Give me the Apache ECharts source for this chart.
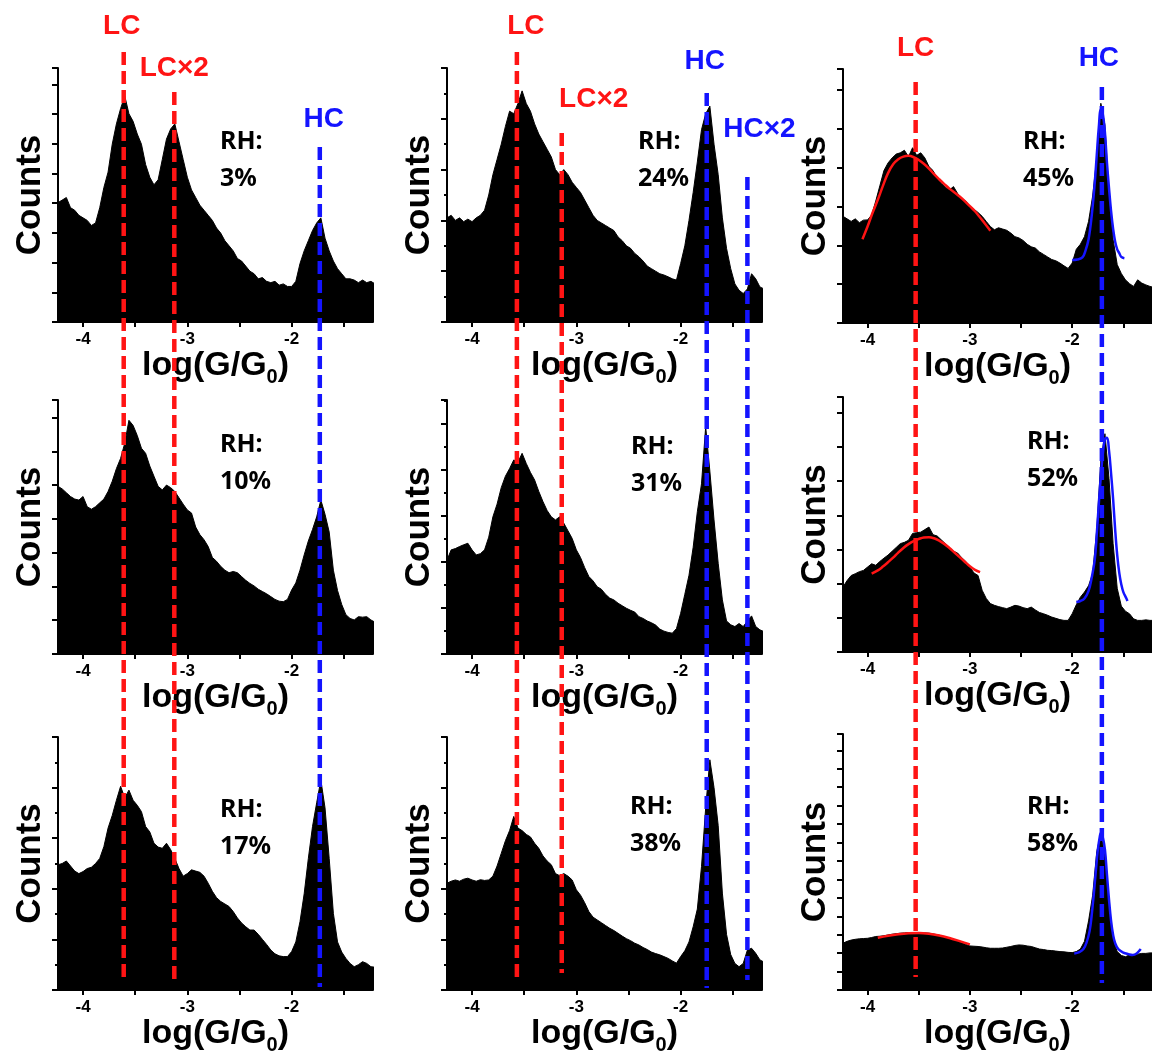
<!DOCTYPE html>
<html>
<head>
<meta charset="utf-8">
<script src="https://cdn.jsdelivr.net/npm/echarts@6.0.0/dist/echarts.min.js"></script>
<style>
  html, body { margin: 0; padding: 0; background: #fff; }
  #main { width: 1152px; height: 1059px; }
</style>
</head>
<body>
<div id="main"></div>
<script>
"use strict";

// bin centres of the conductance histograms, log(G/G0)
var bins = [-4.24,-4.20,-4.16,-4.12,-4.08,-4.04,-4.00,-3.96,-3.92,-3.88,
  -3.84,-3.80,-3.76,-3.72,-3.68,-3.64,-3.60,-3.56,-3.52,-3.48,
  -3.44,-3.40,-3.36,-3.32,-3.28,-3.24,-3.20,-3.16,-3.12,-3.08,
  -3.04,-3.00,-2.96,-2.92,-2.88,-2.84,-2.80,-2.76,-2.72,-2.68,
  -2.64,-2.60,-2.56,-2.52,-2.48,-2.44,-2.40,-2.36,-2.32,-2.28,
  -2.24,-2.20,-2.16,-2.12,-2.08,-2.04,-2.00,-1.96,-1.92,-1.88,
  -1.84,-1.80,-1.76,-1.72,-1.68,-1.64,-1.60,-1.56,-1.52,-1.48,
  -1.44,-1.40,-1.36,-1.32,-1.28,-1.24,-1.20];

// counts, in % of the axis height
var rh3 = [47,48,49,45,44,42,41,40,38,39,
  45,53,59,70,78,84,89,82,79,74,
  70,62,57,54,56,64,72,76,78,71,
  64,57,52,49,46,44,42,40,37,35,
  32,30,28,25,24,22,20,19,17,17.5,
  16,15.5,16,14.5,15,14,14,16,23,28,
  32,36,39,41,33,28,24,21,19,17,
  17,16.5,15.5,16.5,15.5,16,15];
var rh24 = [41,42,40,41,39.5,40.5,39.5,41,42,44,
  50,58,64,70,77,83,82,86,91,86,
  83,78,74,71,68,65,60,58,60,58,
  55,53,51,48,45,42,40,39,38,37,
  36,33.5,32,30,29,27,25.7,24,22,21,
  20,19,18.5,17.8,17,16.5,23,30,40,51,
  63,75.7,82,85,70,58,41,29,21,15,
  12.5,11.2,13,19,17,13.8,13];
var rh45 = [42,41,40,41,39.5,40.5,40.6,42.5,48,54,
  60,63,65,66.5,67,68,65.5,69,66,67,
  65,61.6,60,57,55,53.5,52.4,53.7,51,49,
  48,46,44.8,43.5,42,40,38,36.7,37.5,37,
  36.5,35.4,34,33.5,32.5,31,30,29.5,28,27,
  26,25,24.5,23.6,22.5,21.5,23.6,29,31,34,
  40,50,65,86.5,78,50,32.8,23,19.5,17,
  15.5,14.4,17,15.7,15,14.4,14];
var rh10 = [66,65,63.5,62,61,60.6,62,58,57,58,
  59.5,61,64,68,73,77,83,92,90,86,
  81,79,74,70,66,64.6,66.5,65.5,64,61.5,
  59,56.7,55.5,50,47,45,42.3,38,36.5,34.5,
  33,32,32.5,32,30.5,29,27.8,26.8,25.5,24.6,
  23.7,22.6,21.5,20.8,20.6,21.5,25.2,28,33,39,
  44.5,49,54,60.6,55,48,33,25,19.5,15.5,
  14,13.4,14.7,14.5,14.7,13.4,12.5];
var rh31 = [37,41,41.5,42.3,43,43.6,41,39,39.5,41,
  46,54,59,65.5,70,73,76.4,75.5,79,75,
  71.5,68.5,64,60,56.5,54,52.8,54,51.5,48.5,
  45.5,41,38,34,30.5,28.8,26.5,25.5,23.5,22,
  21.3,20,19,18,17.2,16.5,14.7,14,13,12.3,
  11.4,9.8,9,8.5,8.2,10,16,23.5,31,42,
  56,67,89.5,72,52.8,35.7,21.3,13,11.5,10.8,
  12,10.8,13,15,10.8,9.5,8.8];
var rh52 = [25.5,28,30,30.7,31.5,32,33.3,34.6,34,35.5,
  36.8,38,39.5,41,42.5,43,43.8,46.5,46.8,47,
  48,49,46,45.5,44,42.5,41,39.5,38.8,37,
  35.5,33.3,31,30,24.2,21,19,18.3,17.8,17.4,
  17,17.6,18.3,18,17.4,17,17.6,16.5,15.5,15,
  14.4,13.7,13.2,12.7,12.4,12.4,15,18.5,21.5,23.5,
  26,30.7,48,75,85.6,68,42.5,25,18,16,
  15,13,12.4,12.4,12.6,12.4,12.4];
var rh17 = [49.5,50,51,49,47,46,46.8,48,48.5,50,
  52,56.7,64,69,75,80.5,76,79,75,73,
  70.5,64.6,62.5,58,56.5,56,58,55.5,52,48,
  45,46,47.5,47,46.5,45,42.2,39,36.5,35,
  34,33,31,28.5,26.5,25,23.7,23.7,22,20,
  18,15.8,14.3,13.5,13.2,13.2,15.2,19,27,38,
  52,64.6,74,83,72,52,30.3,19,15,12.5,
  10.5,9.2,10,11.2,10.5,9.2,9];
var rh38 = [42.2,43,43.5,43,43.8,44.2,43.5,43,43.6,43.3,
  43.5,45,49,54,59,63,68.6,64,63,61.5,
  60.5,58,56,53,51,49.5,46,45.2,46,45,
  43.5,39.6,37.5,34.5,31,28.8,27.7,26.6,25.5,24.4,
  23.5,22.4,21.3,20.3,19.5,18.5,17.8,16.8,16,15,
  14.4,13.9,13.2,12.5,11.5,10.6,13.2,15.5,19,25,
  32,48.8,72,91,80,65,38.3,22,14,10.5,
  9.2,10.5,15.8,16.5,14.5,11.9,11];
var rh58 = [18.3,19,19.5,19.8,20,20.1,20.2,20.5,20.9,21,
  21.2,21.5,21.8,22,22.2,22.3,22.4,22.3,22.2,22.2,
  22.3,22.2,21.9,21.6,21.2,20.6,20.2,19.7,19.1,18.6,
  17.8,17.2,17.1,17,16.8,16.5,16.3,16.3,16.3,16.4,
  16.7,17,17.4,17.6,17.5,17.2,17,16.5,16,15.8,
  15.5,15.4,15.2,15,14.9,14.7,14.6,15,16,19,
  27,37,54,61.3,52,34,19.5,15,13.5,13,
  13.7,13.5,14,14.3,14.3,14.5,14.5];

// fitted peaks of the right column
var fit45LcX = [-4.05,-4.0,-3.95,-3.9,-3.85,-3.8,-3.75,-3.7,-3.65,-3.6,-3.55,-3.5,-3.45,-3.4,-3.35,-3.3,-3.25,-3.2,-3.15,-3.1,-3.05,-3.0,-2.95,-2.9,-2.85,-2.8];
var fit45LcY = [33,38,43.5,48.5,54,59,62.5,64.5,65.5,65.8,65.3,64.2,62.7,60.8,58.6,56.6,54.7,52.9,51.4,49.8,48,46,44,41.5,39,36.3];
var fit45HcX = [-2.0,-1.95,-1.9,-1.87,-1.84,-1.81,-1.78,-1.76,-1.74,-1.72,-1.7,-1.68,-1.66,-1.64,-1.62,-1.6,-1.58,-1.56,-1.54,-1.52,-1.49];
var fit45HcY = [24.8,25,25.8,28.5,33,42,55,66,77,84,82,75,63,53,44,37,32,29,27.5,26,25.5];
var fit52LcX = [-3.96,-3.9,-3.85,-3.8,-3.75,-3.7,-3.65,-3.6,-3.55,-3.5,-3.45,-3.4,-3.35,-3.3,-3.25,-3.2,-3.15,-3.1,-3.05,-3.0,-2.95,-2.9];
var fit52LcY = [30.7,32,33.5,35.2,37,39,40.8,42.3,43.5,44.3,44.9,45,44.6,43.7,42.4,40.8,39,37.2,35.4,33.6,32.2,31.3];
var fit52HcX = [-1.96,-1.92,-1.88,-1.84,-1.81,-1.78,-1.76,-1.74,-1.72,-1.70,-1.68,-1.66,-1.64,-1.62,-1.60,-1.58,-1.56,-1.54,-1.52,-1.50,-1.47,-1.46];
var fit52HcY = [19.6,20,21,24,29,36,46,58,69,78,83.5,84,79,70,60,48,38,31,26.5,23.5,21,20];
var fit58LcX = [-3.9,-3.8,-3.7,-3.6,-3.5,-3.4,-3.3,-3.2,-3.1,-3.0];
var fit58LcY = [20.4,21.2,21.8,22.2,22.3,22.0,21.3,20.3,19.1,17.8];
var fit58HcX = [-1.98,-1.93,-1.89,-1.86,-1.83,-1.81,-1.79,-1.77,-1.75,-1.73,-1.72,-1.70,-1.68,-1.66,-1.64,-1.62,-1.60,-1.58,-1.55,-1.5,-1.45,-1.41,-1.37,-1.33];
var fit58HcY = [14.3,14.8,16,18.5,23,29,37,46,54.5,60,61.3,59.5,54.8,45,35.2,27,21.5,18.3,16,14.6,14,13.7,14.3,16];

var rhLabels = ['3%', '24%', '45%', '10%', '31%', '52%', '17%', '38%', '58%'];
var xTickLabels = [-4, -3, -2];
var xTicks = [-4, -3.5, -3, -2.5, -2, -1.5];

// peak positions marked by dashed lines (log G/G0), per column
var peakNames = ['LC', 'LC×2', 'HC', 'LC', 'LC×2', 'HC', 'HC×2', 'LC', 'HC'];
var peakCols = [0, 0, 0, 1, 1, 1, 1, 2, 2];
var peakValues = [-3.61, -3.125, -1.73, -3.57, -3.14, -1.75, -1.36, -3.53, -1.71];

var RED = '#ff1414';
var BLUE = '#1414ff';

// panel layout, row by row
var panels = [
  { data: rh3,  left: 58,  top: 68,  width: 315, height: 254, step: 11.7, minor: false, rx: 220,  ry: 123 },
  { data: rh24, left: 447, top: 68,  width: 315, height: 254, step: 20,   minor: true,  rx: 638,  ry: 123 },
  { data: rh45, left: 843, top: 69,  width: 319, height: 254, step: 15.3, minor: false, rx: 1023, ry: 123 },
  { data: rh10, left: 58,  top: 400, width: 315, height: 254, step: 13.3, minor: false, rx: 220,  ry: 426 },
  { data: rh31, left: 447, top: 400, width: 315, height: 254, step: 18.1, minor: true,  rx: 631,  ry: 428 },
  { data: rh52, left: 843, top: 397, width: 319, height: 255, step: 13.4, minor: false, rx: 1027, ry: 423 },
  { data: rh17, left: 58,  top: 737, width: 315, height: 253, step: 20,   minor: true,  rx: 220,  ry: 791 },
  { data: rh38, left: 447, top: 737, width: 315, height: 253, step: 20,   minor: true,  rx: 630,  ry: 788 },
  { data: rh58, left: 843, top: 734, width: 319, height: 256, step: 7.2,  minor: false, rx: 1027, ry: 788 }
];

var fits = [
  { panel: 2, x: fit45LcX, y: fit45LcY, color: RED },
  { panel: 2, x: fit45HcX, y: fit45HcY, color: BLUE },
  { panel: 5, x: fit52LcX, y: fit52LcY, color: RED },
  { panel: 5, x: fit52HcX, y: fit52HcY, color: BLUE },
  { panel: 8, x: fit58LcX, y: fit58LcY, color: RED },
  { panel: 8, x: fit58HcX, y: fit58HcY, color: BLUE }
];

// dashed line extents and label offsets, same order as peakNames
var lineTop = [52, 92, 147, 52, 133, 93, 177, 82, 87];
var lineBottom = [980, 985, 987, 978, 973, 988, 980, 977, 983];
var labelY = [26, 68, 119, 26, 99, 61, 129, 48, 58];
var labelDx = [-2, 0, 4, 9, 32, -2, 12, 0, -3];

var FONT = '"Liberation Sans", Arial, sans-serif';

var chart = echarts.init(document.getElementById('main'));

var option = {
  animation: false,
  backgroundColor: '#fff',
  grid: panels.map(function (p) {
    return { left: p.left, top: p.top, width: p.width, height: p.height, containLabel: false };
  }),
  xAxis: panels.map(function (p, i) {
    return {
      gridIndex: i,
      type: 'value',
      min: -4.24,
      max: -1.22,
      name: '{a|log(G/G}{s|0}{a|)}',
      nameLocation: 'middle',
      nameGap: 21,
      nameTextStyle: {
        rich: {
          a: { fontFamily: FONT, fontWeight: 'bold', fontSize: 34, color: '#000', lineHeight: 44, verticalAlign: 'middle' },
          s: { fontFamily: FONT, fontWeight: 'bold', fontSize: 20, color: '#000', lineHeight: 20, verticalAlign: 'bottom' }
        }
      },
      axisLine: { onZero: false, lineStyle: { color: '#000', width: 2 } },
      axisTick: { customValues: xTicks, length: 5, lineStyle: { color: '#000', width: 2 } },
      axisLabel: {
        customValues: xTickLabels,
        color: '#000',
        fontFamily: FONT,
        fontWeight: 'bold',
        fontSize: 17,
        margin: 9
      },
      splitLine: { show: false }
    };
  }),
  yAxis: panels.map(function (p, i) {
    return {
      gridIndex: i,
      type: 'value',
      min: 0,
      max: 100,
      interval: p.step,
      name: 'Counts',
      nameLocation: 'middle',
      nameRotate: 90,
      nameGap: 10,
      nameTextStyle: { fontFamily: FONT, fontWeight: 'bold', fontSize: 35, color: '#000' },
      axisLine: { show: true, lineStyle: { color: '#000', width: 2 } },
      axisTick: { show: true, length: 6, lineStyle: { color: '#000', width: 2 } },
      minorTick: { show: p.minor, splitNumber: 2, length: 3, lineStyle: { color: '#000', width: 2 } },
      axisLabel: { show: false },
      splitLine: { show: false }
    };
  }),
  series: []
};

panels.forEach(function (p, i) {
  option.series.push({
    type: 'line',
    xAxisIndex: i,
    yAxisIndex: i,
    data: bins.map(function (b, k) { return [b, p.data[k]]; }),
    symbol: 'none',
    lineStyle: { color: '#000', width: 1 },
    areaStyle: { color: '#000', opacity: 1 },
    z: 2
  });
});

fits.forEach(function (f) {
  option.series.push({
    type: 'line',
    xAxisIndex: f.panel,
    yAxisIndex: f.panel,
    smooth: 0.4,
    data: f.x.map(function (x, k) { return [x, f.y[k]]; }),
    symbol: 'none',
    lineStyle: { color: f.color, width: 2.5 },
    z: 5
  });
});

chart.setOption(option);

// dashed marker lines run through all three rows of a column
var graphics = [];
peakValues.forEach(function (v, i) {
  var px = chart.convertToPixel({ xAxisIndex: peakCols[i] }, v);
  var color = peakNames[i].indexOf('LC') === 0 ? RED : BLUE;
  graphics.push({
    type: 'line',
    z: 100,
    shape: { x1: px, y1: lineTop[i], x2: px, y2: lineBottom[i] },
    style: { stroke: color, lineWidth: 4.5, lineDash: [13, 6] }
  });
  graphics.push({
    type: 'text',
    z: 101,
    x: px + labelDx[i],
    y: labelY[i],
    style: {
      text: peakNames[i],
      fill: color,
      font: 'bold 28px ' + FONT,
      align: 'center',
      verticalAlign: 'middle',
      textAlign: 'center',
      textVerticalAlign: 'middle'
    }
  });
});

panels.forEach(function (p, i) {
  graphics.push({
    type: 'text',
    z: 101,
    x: p.rx,
    y: p.ry,
    style: {
      text: 'RH:\n' + rhLabels[i],
      fill: '#000',
      font: 'bold 25px "Noto Sans", sans-serif',
      lineHeight: 37,
      align: 'left',
      verticalAlign: 'top',
      textAlign: 'left',
      textVerticalAlign: 'top'
    }
  });
});

chart.setOption({ graphic: graphics });
</script>
</body>
</html>
